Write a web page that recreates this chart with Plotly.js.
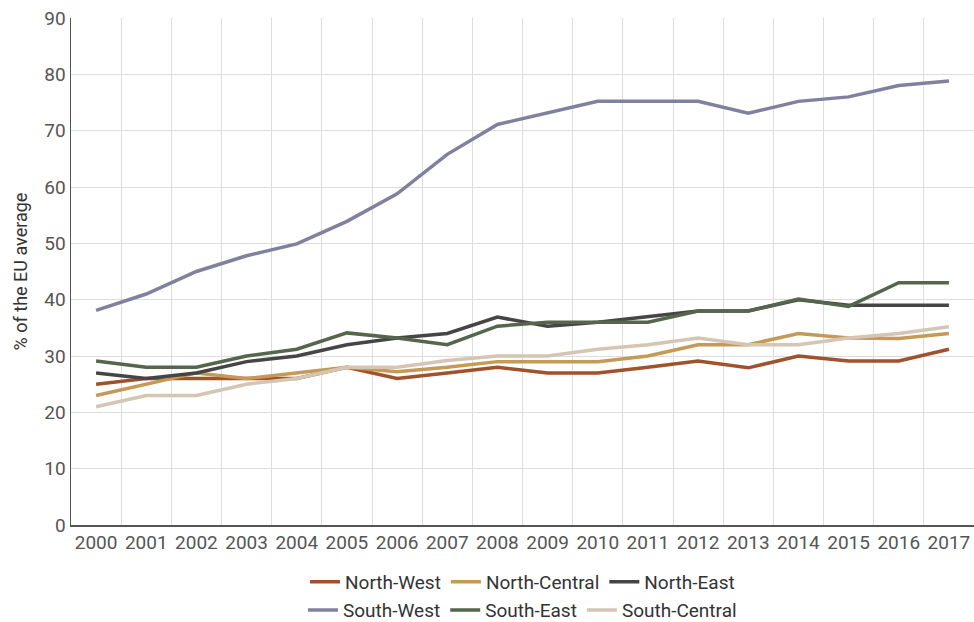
<!DOCTYPE html>
<html>
<head>
<meta charset="utf-8">
<script src="https://cdn.plot.ly/plotly-3.0.1.min.js"></script>
<style>html,body{margin:0;padding:0;background:#fff;}#chart{width:974px;height:622px;}</style>
</head>
<body>
<div id="chart"></div>
<script>
var years = [2000,2001,2002,2003,2004,2005,2006,2007,2008,2009,2010,2011,2012,2013,2014,2015,2016,2017];
var northWest    = [25,26,26,26,26,28,26,27,28,27,27,28,29.1,27.9,30,29.1,29.1,31.2];
var northCentral = [23,25,27,26,27,28,27.2,28,29,29,29,30,32,32,34,33.2,33.1,34];
var northEast    = [27,26,27,29,30,32,33.2,34,36.9,35.3,36,37,38,38,40,39,39,39];
var southWest    = [38.1,41,45,47.8,49.9,53.9,58.8,65.8,71.1,73.1,75.2,75.2,75.2,73.1,75.2,76,78,78.8];
var southEast    = [29.1,28,28,30,31.2,34.1,33.2,32,35.3,36,36,36,38,38,40.1,38.8,43,43];
var southCentral = [21,23,23,25,26,28,28,29.2,30,30,31.2,32,33.2,32,32,33.2,34,35.2];

var names  = ['North-West','North-Central','North-East','South-West','South-East','South-Central'];
var series = [northWest, northCentral, northEast, southWest, southEast, southCentral];
var colors = ['#a0522d','#c49a56','#454545','#80809f','#55664c','#d5c5b3'];
var legendIds = ['legend','legend','legend','legend2','legend2','legend2'];

var traces = series.map(function(s, i){
  return {x: years, y: s, name: names[i], type: 'scatter', mode: 'lines',
          line: {color: colors[i], width: 3.5}, legend: legendIds[i]};
});

var legendBase = {orientation: 'h', xanchor: 'center', x: 0.5, yanchor: 'middle',
  font: {family: 'Roboto', size: 19, color: '#333'}, itemwidth: 30, tracegroupgap: 0,
  borderwidth: 0, bgcolor: 'rgba(0,0,0,0)'};

var layout = {
  width: 974, height: 622,
  margin: {l: 71, r: 0, t: 18, b: 97, autoexpand: false},
  paper_bgcolor: '#fff', plot_bgcolor: '#fff',
  font: {family: 'Roboto', color: '#555'},
  showlegend: true,
  xaxis: {range: [1999.5, 2017.5], tick0: 2000, dtick: 1, showgrid: false, zeroline: false,
          showline: true, linecolor: '#555', linewidth: 1.5, ticks: '', automargin: false,
          tickfont: {family: 'Roboto', size: 19, color: '#555'},
          minor: {tick0: 0, dtick: 0.5, showgrid: true, gridcolor: '#dddddd', gridwidth: 1, ticks: ''}},
  yaxis: {range: [0, 90], dtick: 10, showgrid: true, gridcolor: '#dddddd', gridwidth: 1, zeroline: false,
          showline: true, linecolor: '#555', linewidth: 1.5, ticks: '', automargin: false,
          tickfont: {family: 'Roboto', size: 19, color: '#555'},
          title: {text: '% of the EU average', font: {family: 'Roboto', size: 18, color: '#333'}, standoff: 12}},
  legend: Object.assign({}, legendBase, {y: -0.112}),
  legend2: Object.assign({}, legendBase, {y: -0.168})
};

Plotly.newPlot('chart', traces, layout, {displayModeBar: false, staticPlot: true});
</script>
</body>
</html>
